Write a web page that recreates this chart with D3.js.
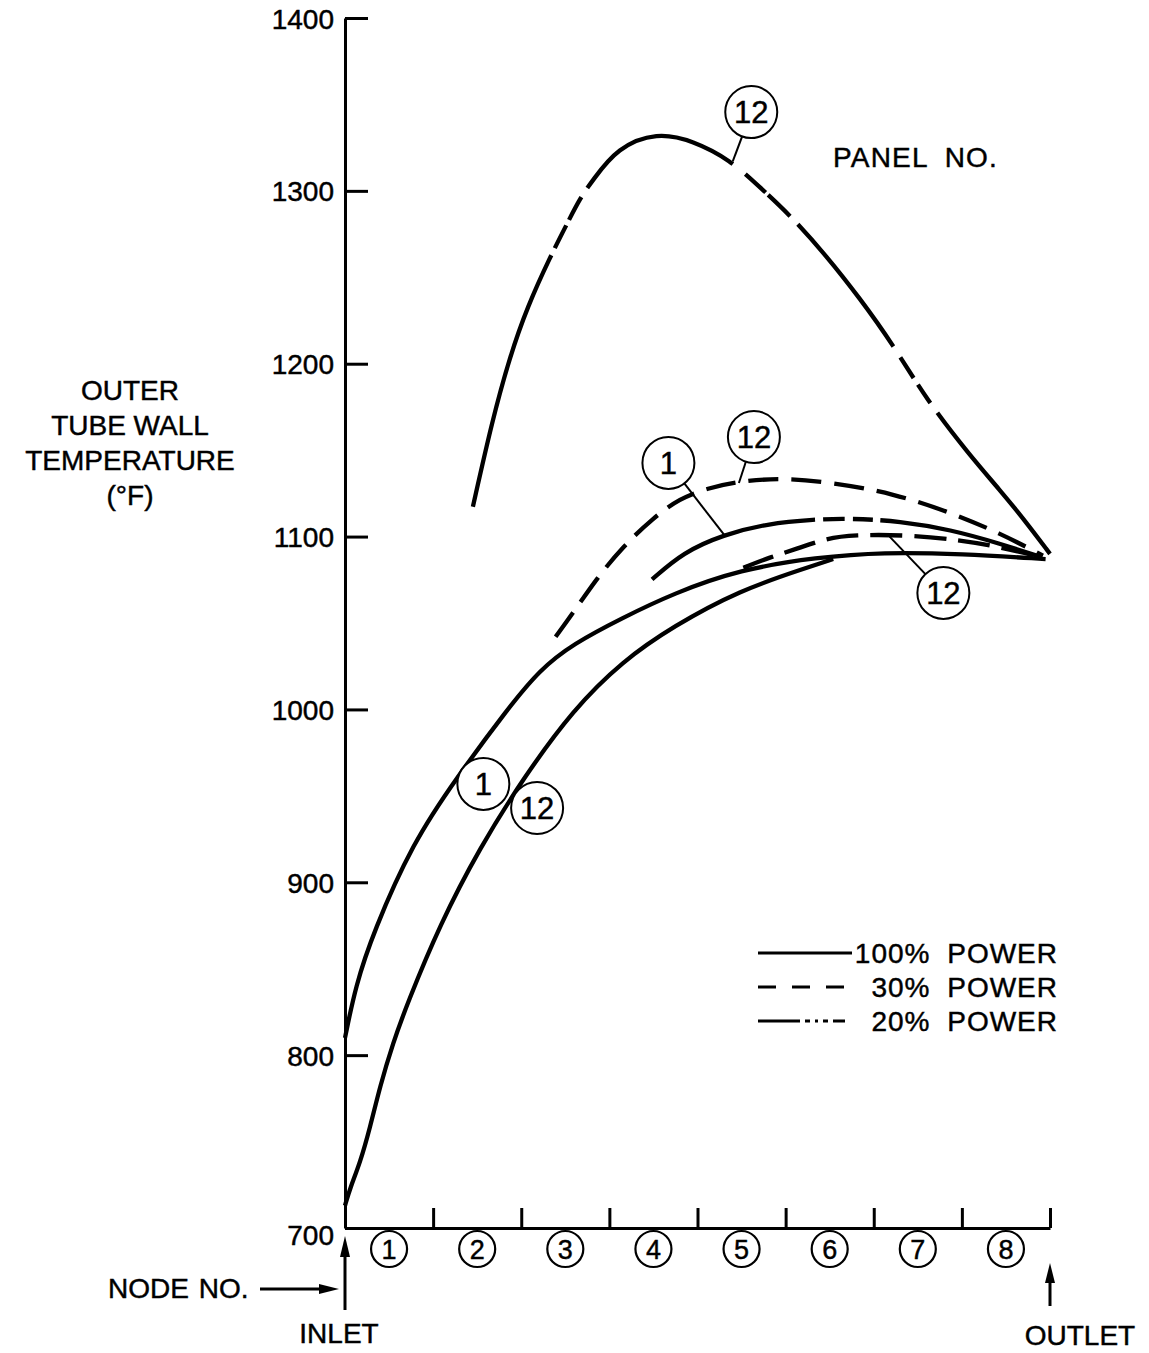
<!DOCTYPE html>
<html><head><meta charset="utf-8">
<script src="https://cdn.jsdelivr.net/npm/d3@7"></script>
<style>
html,body{margin:0;padding:0;background:#fff;}
svg{display:block;}
</style></head><body>
<svg id="chart" width="1149" height="1353"></svg>
<script>
// ---------------- DATA ----------------
const yTicks = [700, 800, 900, 1000, 1100, 1200, 1300, 1400];
const nodeBoundaries = [0, 1, 2, 3, 4, 5, 6, 7, 8];
const nodeLabels = ["1", "2", "3", "4", "5", "6", "7", "8"];
const titleLines = ["OUTER", "TUBE WALL", "TEMPERATURE", "(°F)"];
const legendLabels = ["100% POWER", "30% POWER", "20% POWER"];

// [position along tube in node units (0 = inlet, 8 = outlet), temperature °F]
const temp100Panel1 = [[0,810],[0.12,840],[0.32,871],[0.77,923],[1.26,960],[1.84,1000],[2.21,1023],[2.59,1038],[3.15,1053],[3.72,1067],[4.48,1081],[5.36,1088],[6.1,1091],[7.0,1090],[7.95,1087]];
const temp100Panel12 = [[0,713],[0.057,723],[0.17,737.6],[0.284,758],[0.397,782],[0.545,807],[0.7,829],[1.08,876],[1.53,920],[2.02,960],[2.59,1000],[3.15,1028],[3.72,1048],[4.48,1069],[5.24,1082],[5.54,1087]];
const temp30Panel12Upper = [[2.39,1042],[2.59,1056],[2.86,1076],[3.15,1094],[3.50,1111],[3.80,1122],[4.11,1128],[4.48,1132],[4.97,1134],[5.56,1131],[6.22,1125],[6.87,1114],[7.43,1102],[7.92,1089]];
const temp30Panel12Lower = [[4.52,1082],[4.82,1088],[5.13,1093],[5.47,1099],[5.76,1101],[6.39,1101],[6.98,1098],[7.43,1094],[7.91,1088]];
const temp20Panel1 = [[3.48,1075],[3.84,1091],[4.29,1101],[4.79,1107.5],[5.33,1110],[5.73,1110.5],[6.3,1109],[6.87,1104],[7.43,1096],[7.91,1088]];
const temp20Panel12 = [[1.45,1117],[1.67,1167],[1.87,1204],[2.07,1233],[2.33,1262],[2.52,1281],[2.67,1296],[2.81,1306],[3.09,1325],[3.54,1334],[3.95,1329],[4.37,1318],[4.71,1302],[5.05,1286],[5.47,1262],[5.84,1238],[6.22,1211],[6.6,1179],[7.09,1147],[7.43,1127],[7.72,1109],[8.0,1090]];

// ---------------- LAYOUT / STYLE ----------------
const FONT = '"Liberation Sans", Arial, Helvetica, sans-serif';
const svg = d3.select("#chart");
const x = d3.scaleLinear().domain([0, 8]).range([345, 1050]);
const y = d3.scaleLinear().domain([700, 1400]).range([1228, 18]);
const line = d3.line().x(d => x(d[0])).y(d => y(d[1])).curve(d3.curveBasis);

// solid portions (in node units) of the long-and-short dash curves
const onTop = [[1.45,2.34],[2.38,2.51],[2.54,2.68],[2.75,4.40],[4.54,4.77],[4.80,5.05],[5.14,6.22],[6.30,6.45],[6.50,6.64],[6.72,8.0]];
const onPanel1 = [[3.48,5.33],[5.42,5.67],[5.76,5.99],[6.07,7.95]];

const curves = [
  {data: temp100Panel1, dash: null, w: 4.3},
  {data: temp100Panel12, dash: null, w: 4.3},
  {data: temp30Panel12Upper, dash: "30 13", w: 4.3},
  {data: temp30Panel12Lower, dash: "32 12", w: 4.3},
  {data: temp20Panel1, on: onPanel1, w: 4.3},
  {data: temp20Panel12, on: onTop, w: 4.3}
];

const textStroke = sel => sel.attr("stroke", "#000").attr("stroke-width", 0.45);

// ---------------- AXES ----------------
const yAxis = d3.axisLeft(y).tickValues(yTicks).tickSizeInner(-23).tickSizeOuter(0).tickPadding(11).tickFormat(d3.format("d"));
const gy = svg.append("g").attr("transform", `translate(${x(0)},0)`).call(yAxis);
gy.select(".domain").attr("stroke", "#000").attr("stroke-width", 3);
gy.selectAll(".tick line").attr("stroke", "#000").attr("stroke-width", 3);
gy.selectAll(".tick text").attr("font-size", 28).attr("font-family", FONT).attr("fill", "#000")
  .attr("dy", d => d === 700 ? "0.6em" : "0.36em").call(textStroke);

const xAxis = d3.axisBottom(x).tickValues(nodeBoundaries).tickSizeInner(-20).tickSizeOuter(0).tickFormat("");
const gx = svg.append("g").attr("transform", `translate(0,${y(700)})`).call(xAxis);
gx.select(".domain").attr("stroke", "#000").attr("stroke-width", 3);
gx.selectAll(".tick line").attr("stroke", "#000").attr("stroke-width", 3);

// node numbers in circles
const gn = svg.append("g").selectAll("g").data(nodeLabels).join("g")
  .attr("transform", (d, i) => `translate(${x(i + 0.5)},${y(700) + 21})`);
gn.append("circle").attr("r", 18).attr("fill", "#fff").attr("stroke", "#000").attr("stroke-width", 2.2);
gn.append("text").text(d => d).attr("text-anchor", "middle").attr("dy", "0.36em")
  .attr("font-family", FONT).attr("font-size", 27).attr("fill", "#000").call(textStroke);

// ---------------- CURVES ----------------
function dashFromIntervals(node, intervals) {
  const total = node.getTotalLength();
  const samples = [];
  for (let l = 0; l <= total; l += 0.5) samples.push([l, node.getPointAtLength(l).x]);
  const lenAt = px => { for (const s of samples) if (s[1] >= px) return s[0]; return total; };
  const arr = [0];
  let cursor = 0;
  intervals.forEach(([a, b]) => {
    const la = lenAt(x(a)), lb = Math.min(total, lenAt(x(b)));
    arr.push(Math.max(0, la - cursor), Math.max(0, lb - la));
    cursor = lb;
  });
  arr.push(total - cursor + 20);
  return arr.map(v => v.toFixed(2)).join(" ");
}

const gc = svg.append("g");
curves.forEach(c => {
  const p = gc.append("path").datum(c.data).attr("d", line)
    .attr("fill", "none").attr("stroke", "#000").attr("stroke-width", c.w)
    .attr("stroke-linejoin", "round");
  if (c.dash) p.attr("stroke-dasharray", c.dash);
  if (c.on) p.attr("stroke-dasharray", dashFromIntervals(p.node(), c.on));
});

// ---------------- PANEL LABELS ----------------
const panelLabels = [
  {text: "12", at: [4.61, 1345.6], to: [4.40, 1317]},
  {text: "12", at: [4.64, 1157.6], to: [4.47, 1131]},
  {text: "1",  at: [3.67, 1142.6], to: [4.31, 1100.5]},
  {text: "12", at: [6.79, 1067.4], to: [6.18, 1100]},
  {text: "1",  at: [1.57, 956.9]},
  {text: "12", at: [2.18, 943.0]}
];
const R = 26;
const gl = svg.append("g");
panelLabels.forEach(d => {
  const cx = x(d.at[0]), cy = y(d.at[1]);
  if (d.to) {
    const tx = x(d.to[0]), ty = y(d.to[1]);
    const dx = tx - cx, dy = ty - cy, L = Math.hypot(dx, dy);
    gl.append("line").attr("x1", cx + dx / L * R).attr("y1", cy + dy / L * R)
      .attr("x2", tx).attr("y2", ty).attr("stroke", "#000").attr("stroke-width", 2);
  }
  gl.append("circle").attr("cx", cx).attr("cy", cy).attr("r", R)
    .attr("fill", "#fff").attr("stroke", "#000").attr("stroke-width", 2);
  gl.append("text").attr("x", cx).attr("y", cy).attr("dy", "0.36em").attr("text-anchor", "middle")
    .attr("font-family", FONT).attr("font-size", 31).attr("fill", "#000").text(d.text).call(textStroke);
});

// ---------------- TEXT ----------------
svg.append("text").attr("x", 833).attr("y", 167).attr("font-family", FONT).attr("font-size", 28)
  .attr("letter-spacing", 1.2).attr("word-spacing", 8).attr("fill", "#000").text("PANEL NO.").call(textStroke);

svg.append("g").selectAll("text").data(titleLines).join("text")
  .attr("x", 130).attr("y", (d, i) => 400 + i * 35).attr("text-anchor", "middle")
  .attr("font-family", FONT).attr("font-size", 28).attr("fill", "#000").text(d => d).call(textStroke);

// legend
const legendDash = [null, "18 16", "42 5 5 5 3 5 5 5 12"];
const lg = svg.append("g").selectAll("g").data(legendLabels).join("g")
  .attr("transform", (d, i) => `translate(0,${953 + i * 34})`);
lg.append("line").attr("x1", 758).attr("x2", (d, i) => i === 0 ? 852 : 847).attr("y1", 0).attr("y2", 0)
  .attr("stroke", "#000").attr("stroke-width", 3)
  .attr("stroke-dasharray", (d, i) => legendDash[i]);
lg.append("text").attr("x", 1058).attr("y", 10).attr("text-anchor", "end")
  .attr("font-family", FONT).attr("font-size", 28).attr("word-spacing", 8).attr("letter-spacing", 1)
  .attr("fill", "#000").text(d => d).call(textStroke);

// bottom annotations
const ga = svg.append("g").attr("fill", "#000").attr("stroke", "#000");
ga.append("line").attr("x1", x(0)).attr("x2", x(0)).attr("y1", 1310).attr("y2", 1250).attr("stroke-width", 3);
ga.append("path").attr("d", `M${x(0)},1236 L${x(0) - 5},1257 L${x(0) + 5},1257 Z`).attr("stroke", "none");
ga.append("line").attr("x1", x(8)).attr("x2", x(8)).attr("y1", 1306).attr("y2", 1278).attr("stroke-width", 3);
ga.append("path").attr("d", `M${x(8)},1263 L${x(8) - 5},1283 L${x(8) + 5},1283 Z`).attr("stroke", "none");
ga.append("line").attr("x1", 260).attr("x2", 322).attr("y1", 1289).attr("y2", 1289).attr("stroke-width", 3);
ga.append("path").attr("d", `M339,1289 L319,1284 L319,1294 Z`).attr("stroke", "none");

svg.append("text").attr("x", 108).attr("y", 1298).attr("font-family", FONT).attr("font-size", 28)
  .attr("word-spacing", 2).attr("fill", "#000").text("NODE NO.").call(textStroke);
svg.append("text").attr("x", 339).attr("y", 1343).attr("text-anchor", "middle").attr("font-family", FONT)
  .attr("font-size", 28).attr("fill", "#000").text("INLET").call(textStroke);
svg.append("text").attr("x", 1080).attr("y", 1345).attr("text-anchor", "middle").attr("font-family", FONT)
  .attr("font-size", 28).attr("fill", "#000").text("OUTLET").call(textStroke);
</script>
</body></html>
